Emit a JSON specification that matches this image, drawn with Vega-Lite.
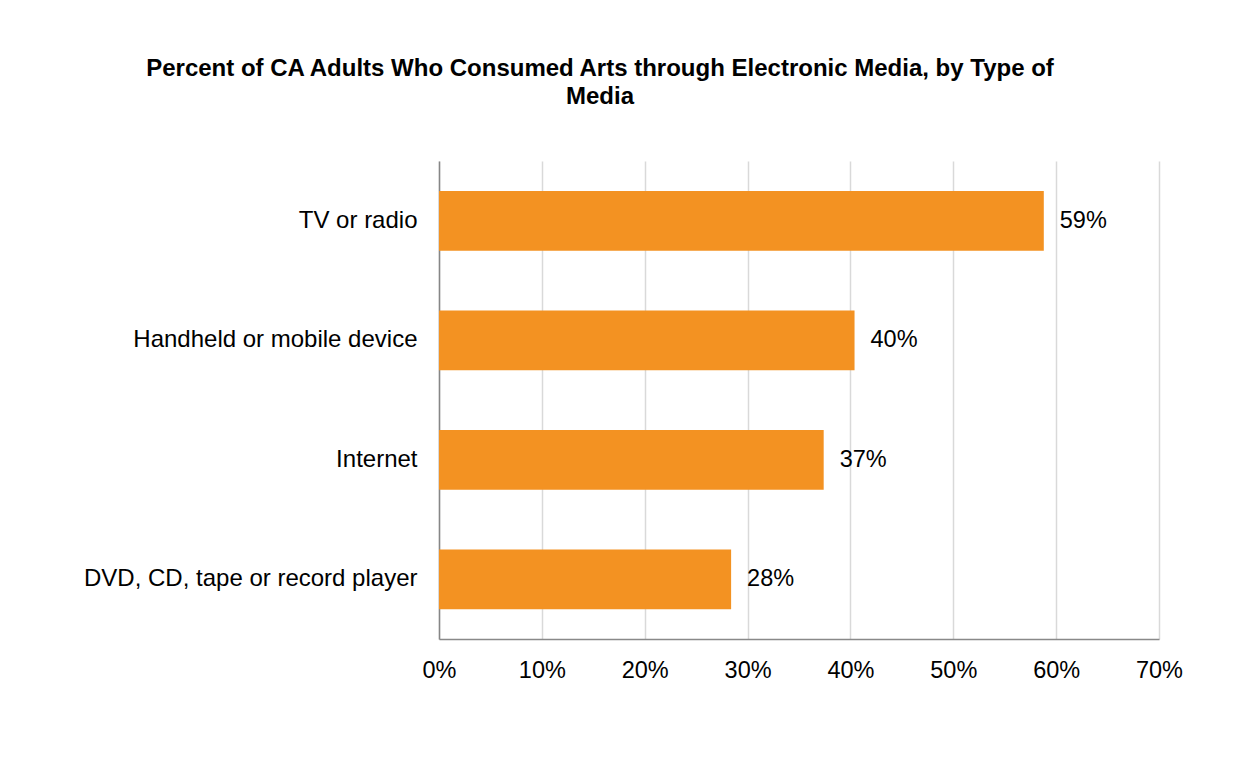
{
  "$schema": "https://vega.github.io/schema/vega-lite/v6.json",
  "width": 720,
  "height": 478,
  "autosize": {"type": "none"},
  "padding": {"left": 439, "top": 161, "right": 89, "bottom": 132},
  "background": "white",
  "title": {
    "text": ["Percent of CA Adults Who Consumed Arts through Electronic Media, by Type of", "Media"],
    "font": "Liberation Sans",
    "fontSize": 24,
    "fontWeight": "bold",
    "color": "#000000",
    "anchor": "middle",
    "frame": "group",
    "dx": -199,
    "offset": 52,
    "lineHeight": 28
  },
  "data": {
    "values": [
      {"media": "TV or radio", "pct": 0.588},
      {"media": "Handheld or mobile device", "pct": 0.404},
      {"media": "Internet", "pct": 0.374},
      {"media": "DVD, CD, tape or record player", "pct": 0.284}
    ]
  },
  "encoding": {
    "y": {
      "field": "media",
      "type": "nominal",
      "sort": null,
      "title": null,
      "scale": {"paddingInner": 0.5, "paddingOuter": 0.25},
      "axis": {
        "ticks": false,
        "labelPadding": 22,
        "labelFont": "Liberation Sans",
        "labelFontSize": 24,
        "labelColor": "#000000",
        "domainColor": "#868686",
        "domainWidth": 1.5,
        "grid": false,
        "labelLimit": 500
      }
    },
    "x": {
      "field": "pct",
      "type": "quantitative",
      "title": null,
      "scale": {"domain": [0, 0.7], "nice": false},
      "axis": {
        "format": ".0%",
        "values": [0, 0.1, 0.2, 0.3, 0.4, 0.5, 0.6, 0.7],
        "ticks": false,
        "labelFlush": false,
        "labelPadding": 19,
        "labelFont": "Liberation Sans",
        "labelFontSize": 23.5,
        "labelColor": "#000000",
        "domainColor": "#898989",
        "domainWidth": 1.5,
        "grid": true,
        "gridColor": "#d9d9d9",
        "gridWidth": 1.5
      }
    }
  },
  "layer": [
    {"mark": {"type": "bar", "color": "#F39222"}},
    {
      "mark": {"type": "text", "align": "left", "baseline": "middle", "dx": 16, "font": "Liberation Sans", "fontSize": 23.5, "color": "#000000"},
      "encoding": {"text": {"field": "pct", "type": "quantitative", "format": ".0%"}}
    }
  ],
  "config": {"view": {"stroke": null}}
}
